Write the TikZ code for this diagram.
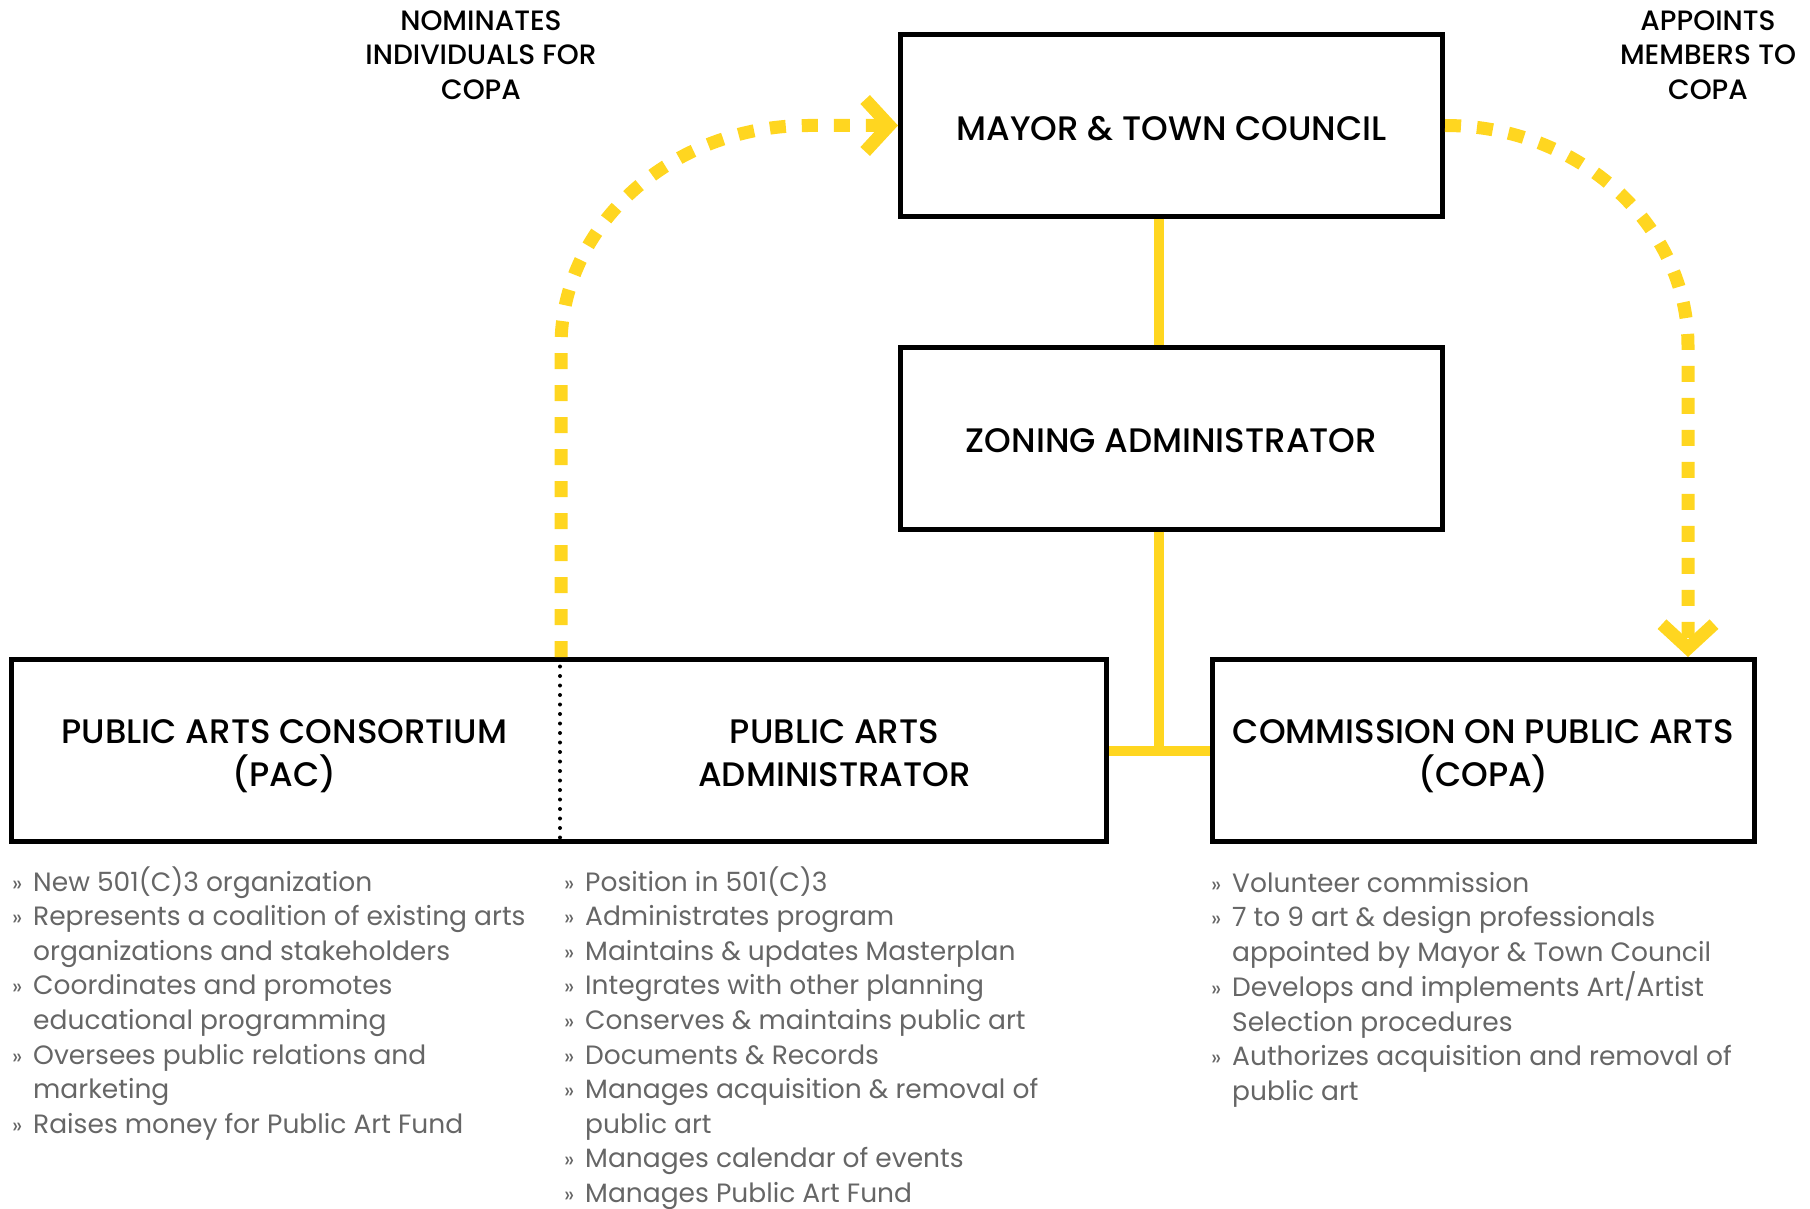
\documentclass[tikz,border=0pt]{standalone}
\usepackage{fontspec}
\setmainfont{Poppins}
\newfontfamily\headfont{Poppins Medium}
\usepackage{xcolor}
\usepackage{tikz}
\usetikzlibrary{arrows.meta}
\definecolor{copayellow}{RGB}{255, 214, 32}
\definecolor{listgray}{RGB}{102, 102, 102}
\newcommand{\bul}{\makebox[21pt][l]{\fontsize{22}{22}\selectfont »}}

\begin{document}
\begin{tikzpicture}[x=1pt, y=-1pt,
  orgbox/.style={draw, line width=5pt, minimum width=542pt, minimum height=182pt, inner sep=0pt},
  boxtitle/.style={align=center, inner sep=0pt, text depth=0pt, yshift=-3pt, font=\headfont\fontsize{34}{43}\selectfont},
  note/.style={align=center, inner sep=0pt, font=\headfont\fontsize{28}{34.6}\selectfont},
  duties/.style={anchor=base west, inner sep=0pt, text=listgray, font=\fontsize{26.5}{34.6}\selectfont},
  tie/.style={draw=copayellow, line width=10pt},
  flow/.style={draw=copayellow, line width=13pt, dash pattern=on 16pt off 16pt, -{Straight Barb[length=24pt, width=52pt, line width=13pt]}},
  divline/.style={line width=4pt, line cap=round, dash pattern=on 0pt off 9.5pt}]
\useasboundingbox (0,0) rectangle (1810,1209);

% Boxes
\node[orgbox] (mayor) at (1171.5,125.5) {};
\node[orgbox] (zoning) at (1171.5,438) {};
\node[orgbox, minimum width=1095pt] (pairbox) at (559,750.5) {};
\node[orgbox] (copa) at (1483.5,750.5) {};

% Box titles
\node[boxtitle] (mayortext) at (mayor) {MAYOR \& TOWN COUNCIL};
\node[boxtitle] (zoningtext) at (zoning) {ZONING ADMINISTRATOR};
\node[boxtitle] (pac) at (284.5,750.5) {PUBLIC ARTS CONSORTIUM\\(PAC)};
\node[boxtitle] (admin) at (834.5,750.5) {PUBLIC ARTS\\ADMINISTRATOR};
\node[boxtitle] (copatext) at (copa) {COMMISSION ON PUBLIC ARTS\\(COPA)};

% Helper points
\coordinate (divider) at (560,0);
\coordinate (trunk) at (1159,0);
\coordinate (nomup) at (561,346);
\coordinate (nomtop) at (808,125.5);
\coordinate (appturn) at (1688,346);

% Dotted split between PAC and administrator
\draw[divline] (pairbox.north -| divider) -- (pairbox.south -| divider);

% Reporting lines
\draw[tie] (mayor.south -| trunk) -- (zoning.north -| trunk);
\draw[tie] (zoning.south -| trunk) -- (trunk |- copa.west);
\draw[tie] (pairbox.east) -- (copa.west);

% Nominates / appoints
\draw[flow] (pairbox.north -| nomup) -- (nomup) .. controls +(0,-121) and +(-136,0) .. (nomtop) -- (mayor.west);
\draw[flow] (mayor.east) .. controls +(134,0) and +(0,-121) .. (appturn) -- (appturn |- copa.north);
\node[note] (nominate) at (481,55) {NOMINATES\\INDIVIDUALS FOR\\COPA};
\node[note] (appoint) at (1708,55) {APPOINTS\\MEMBERS TO\\COPA};

% Duties
\node[duties] (pacduties) at (12,891) {\begin{tabular}[t]{@{}l@{}l@{}}
\bul & New 501(C)3 organization\\
\bul & Represents a coalition of existing arts\\
 & organizations and stakeholders\\
\bul & Coordinates and promotes\\
 & educational programming\\
\bul & Oversees public relations and\\
 & marketing\\
\bul & Raises money for Public Art Fund
\end{tabular}};
\node[duties] (adminduties) at (564,891) {\begin{tabular}[t]{@{}l@{}l@{}}
\bul & Position in 501(C)3\\
\bul & Administrates program\\
\bul & Maintains \& updates Masterplan\\
\bul & Integrates with other planning\\
\bul & Conserves \& maintains public art\\
\bul & Documents \& Records\\
\bul & Manages acquisition \& removal of\\
 & public art\\
\bul & Manages calendar of events\\
\bul & Manages Public Art Fund
\end{tabular}};
\node[duties] (copaduties) at (1211,892) {\begin{tabular}[t]{@{}l@{}l@{}}
\bul & Volunteer commission\\
\bul & 7 to 9 art \& design professionals\\
 & appointed by Mayor \& Town Council\\
\bul & Develops and implements Art/Artist\\
 & Selection procedures\\
\bul & Authorizes acquisition and removal of\\
 & public art
\end{tabular}};
\end{tikzpicture}
\end{document}
